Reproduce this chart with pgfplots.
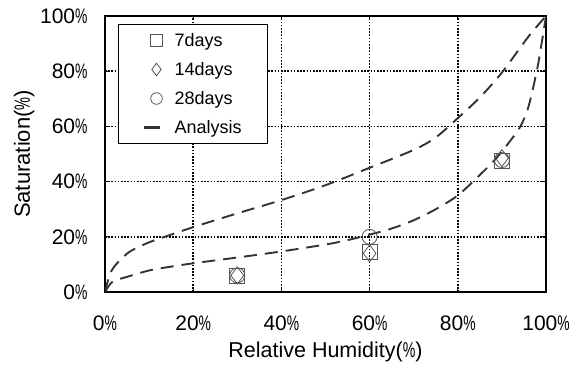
\documentclass[border=0pt]{standalone}
\usepackage{fontspec}
\setmainfont{Liberation Sans}
\usepackage{graphicx}
\usepackage{pgfplots}
\pgfplotsset{compat=1.18}
\definecolor{curve}{HTML}{333333}
\definecolor{mk}{HTML}{555555}
\newcommand{\pc}{\scalebox{0.66}[1]{\%}}
\pgfplotsset{
  legmark/.style={legend image code/.code={\path[draw=none,fill=none] (-38bp,-14.5bp) rectangle (6bp,14.5bp); \draw[##1, mark size=#1] plot coordinates {(0bp,0bp)};}},
  legline/.style={legend image code/.code={\path[draw=none,fill=none] (-38bp,-14.5bp) rectangle (6bp,14.5bp); \draw[##1, solid, line width=3bp] (-13bp,0bp) -- (3bp,0bp);}},
}
\begin{document}
\begin{tikzpicture}[x=1bp,y=1bp]
\path[use as bounding box] (0,0) rectangle (579,367);
\begin{axis}[
  at={(105bp,75bp)}, anchor=south west,
  scale only axis, width=441bp, height=276bp,
  xmin=0, xmax=100, ymin=0, ymax=100,
  xtick={0,20,...,100}, ytick={0,20,...,100},
  xticklabels={0\pc,20\pc,40\pc,60\pc,80\pc,100\pc},
  yticklabels={0\pc,20\pc,40\pc,60\pc,80\pc,100\pc},
  grid=major, grid style={black, line width=1.6bp, dash pattern=on 1.6bp off 1.6bp},
  axis line style={black, line width=1.2pt},
  tick align=inside, major tick length=4bp, tick style={black, line width=0.8pt},
  tick label style={font=\fontsize{21bp}{24bp}\selectfont},
  xticklabel style={yshift=-20bp},
  yticklabel style={xshift=-14bp},
  xlabel={Relative Humidity(\pc)}, ylabel={Saturation(\pc)},
  xlabel style={font=\fontsize{21.5bp}{24bp}\selectfont, at={(axis description cs:0.5,0)}, anchor=base, yshift=-65bp},
  ylabel style={font=\fontsize{22bp}{24bp}\selectfont, at={(axis description cs:-0.183,0.5)}, anchor=center},
  legend style={at={(axis cs:2.95,97.1)}, anchor=north west, draw=black, line width=1pt,
    font=\fontsize{18bp}{20bp}\selectfont, inner xsep=0pt, inner ysep=1.5bp,
    nodes={inner sep=0pt}, column sep=12bp, row sep=0pt},
  legend cell align=left,
]
\addplot[only marks, mark=square, mark size=7.5bp, draw=mk, line width=0.8pt, legmark=5.8bp]
  coordinates {(30,6) (60,14.7) (90,47.6)};
\addlegendentry{\makebox[93bp][l]{7days}}
\addplot[only marks, mark=diamond, mark size=8.5bp, draw=mk, line width=0.8pt, legmark=6.3bp]
  coordinates {(30,6) (60,14) (90,48.5)};
\addlegendentry{\makebox[93bp][l]{14days}}
\addplot[only marks, mark=o, mark size=7.5bp, draw=mk, line width=0.8pt, legmark=5.8bp]
  coordinates {(30,6) (60,20) (90,47.8)};
\addlegendentry{\makebox[93bp][l]{28days}}
\addplot[curve, line width=1.9pt, dash pattern=on 13bp off 8bp, smooth, forget plot] coordinates {
(0,0) (1,6) (2,9) (4,12.5) (6,15) (10,18) (15,20.8) (20,23.5) (30,28.5) (40,33.3) (50,38.7) (60,45) (70,51.5) (75,56) (80,63) (85,70.5) (90,79.5) (96,92.5) (100,100)};
\addplot[curve, line width=1.9pt, dash pattern=on 13bp off 8bp, smooth, legline] coordinates {
(0,0) (1,2.5) (2,4) (5,5.5) (10,7.8) (15,9.2) (20,10.4) (30,12.5) (40,14.7) (50,17.2) (55,18.8) (60,20.8) (65,23) (70,26) (75,30) (80,35) (84.6,41.8) (88.4,47.9) (90,51) (92,55) (94.2,60) (96,67) (97.9,80) (99,90) (100,100)};
\addlegendentry{\makebox[93bp][l]{Analysis}}
\end{axis}
\end{tikzpicture}
\end{document}
